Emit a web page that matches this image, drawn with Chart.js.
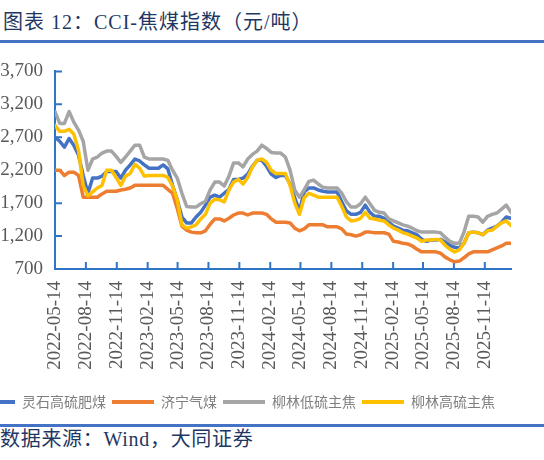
<!DOCTYPE html>
<html><head><meta charset="utf-8">
<script src="https://cdn.jsdelivr.net/npm/chart.js@4"></script>
<style>
html,body{margin:0;padding:0;width:544px;height:460px;overflow:hidden;background:#fff;position:relative;}
#title{position:absolute;left:3px;top:11px;font:20px/22px "Liberation Serif","Noto Sans CJK SC",serif;color:#1F3763;white-space:nowrap;letter-spacing:1px;}
#src{position:absolute;left:0px;top:428px;font:20px/22px "Liberation Serif","Noto Sans CJK SC",serif;color:#1F3763;white-space:nowrap;letter-spacing:0.7px;}
.rule{position:absolute;left:0;width:544px;background:#4472C4;}
#c{position:absolute;left:-70px;top:48px;}
</style></head>
<body>
<div id="title">图表 12：CCI-焦煤指数（元/吨）</div>
<div class="rule" style="top:40px;height:3px;"></div>
<canvas id="c" width="614" height="372"></canvas>
<div class="rule" style="top:424px;height:3px;"></div>
<div id="src">数据来源：Wind，大同证券</div>
<script>
// x: one observation every two weeks starting 2022-05-14
const startDate = '2022-05-14';
const stepDays = 14;
const tickLabels = ['2022-05-14','2022-08-14','2022-11-14','2023-02-14','2023-05-14','2023-08-14','2023-11-14','2024-02-14','2024-05-14','2024-08-14','2024-11-14','2025-02-14','2025-05-14','2025-08-14','2025-11-14'];
const seriesNames = ['灵石高硫肥煤','济宁气煤','柳林低硫主焦','柳林高硫主焦'];
const lingshi = [2700,2640,2550,2680,2580,2430,2120,1850,2080,2080,
 2110,2180,2180,2180,2080,2200,2280,2370,2340,2280,
 2230,2230,2230,2280,2220,1970,1750,1490,1400,1400,
 1490,1560,1670,1790,1820,1790,1850,1910,2060,2060,
 2080,2140,2260,2350,2350,2260,2140,2090,2120,2120,
 1990,1780,1580,1870,1930,1930,1900,1880,1870,1870,
 1870,1720,1580,1530,1530,1560,1670,1560,1500,1500,
 1470,1410,1350,1320,1290,1280,1250,1220,1150,1120,
 1140,1140,1150,1110,1060,1030,1020,1090,1250,1260,
 1250,1220,1290,1320,1350,1410,1490,1470];
const jining = [2200,2200,2120,2170,2170,2120,1790,1790,1790,1790,
 1840,1880,1880,1880,1900,1910,1930,1970,1970,1970,
 1970,1970,1970,1970,1910,1850,1620,1350,1290,1260,
 1250,1250,1280,1380,1460,1460,1430,1470,1520,1550,
 1550,1520,1550,1550,1550,1530,1460,1410,1410,1410,
 1400,1320,1280,1310,1370,1370,1370,1370,1340,1340,
 1340,1310,1230,1220,1200,1220,1260,1260,1250,1250,
 1250,1230,1120,1110,1090,1080,1050,1000,960,960,
 960,960,940,880,840,810,820,870,930,960,
 960,960,960,990,1020,1050,1090,1090];
const liulinLow = [3090,2910,2910,3090,2930,2810,2640,2200,2370,2400,
 2460,2490,2490,2410,2320,2400,2490,2580,2580,2400,
 2370,2370,2370,2370,2350,2200,2080,1850,1650,1640,
 1640,1690,1730,1900,2020,2020,1960,2110,2310,2310,
 2250,2370,2440,2490,2580,2530,2470,2460,2460,2400,
 2200,1900,1790,1900,2030,2050,1990,1940,1930,1930,
 1930,1850,1720,1640,1640,1690,1790,1690,1590,1560,
 1550,1460,1430,1400,1370,1350,1320,1280,1260,1260,
 1260,1260,1250,1180,1120,1090,1090,1260,1500,1500,
 1490,1410,1500,1530,1550,1610,1670,1560];
const liulinHigh = [2880,2790,2790,2820,2750,2500,1970,1810,1870,1930,
 1970,2200,2200,2090,1970,2110,2150,2290,2230,2110,
 2120,2120,2120,2120,2090,1960,1750,1370,1320,1340,
 1370,1460,1530,1700,1760,1750,1720,1900,2020,2060,
 1990,2090,2250,2350,2370,2320,2200,2150,2150,2150,
 1970,1700,1530,1780,1850,1820,1790,1790,1790,1790,
 1790,1650,1490,1430,1440,1470,1560,1470,1460,1440,
 1430,1370,1320,1290,1250,1230,1200,1170,1120,1140,
 1140,1150,1140,1060,1000,960,990,1090,1250,1260,
 1250,1220,1280,1290,1350,1400,1430,1360];
const colors = ['#4472C4','#ED7D31','#A5A5A5','#FFC000'];
const yMin = 700, yMax = 3700, yStep = 500;

const DAY = 86400000;
const toMs = s => Date.parse(s + 'T00:00:00Z');
const startMs = toMs(startDate);
const xs = lingshi.map((_, i) => startMs + i * stepDays * DAY);
const tickMs = tickLabels.map(toMs);
const AXIS = '#2E75C6';

const seriesVals = [lingshi, jining, liulinLow, liulinHigh];
const datasets = seriesVals.map((vals, k) => ({
  label: seriesNames[k],
  data: vals.map((v, i) => ({x: xs[i], y: v})),
  borderColor: colors[k],
  backgroundColor: colors[k],
  borderWidth: 3.5,
  pointRadius: 0,
  tension: 0,
  borderJoinStyle: 'round',
  borderCapStyle: 'round',
  order: 4 - k
}));

const inTicks = {
  id: 'inTicks',
  beforeDatasetsDraw(chart) {
    const {ctx, scales: {x, y}} = chart;
    ctx.save();
    ctx.strokeStyle = AXIS;
    ctx.lineWidth = 2;
    ctx.beginPath();
    y.ticks.forEach(t => { const py = y.getPixelForValue(t.value); ctx.moveTo(y.right, py); ctx.lineTo(y.right + 7, py); });
    x.ticks.forEach((t, i) => { if (i === 0) return; const px = x.getPixelForValue(t.value); ctx.moveTo(px, x.top); ctx.lineTo(px, x.top - 7); });
    ctx.stroke();
    ctx.restore();
  }
};

new Chart(document.getElementById('c'), {
  type: 'line',
  data: {datasets},
  plugins: [inTicks],
  options: {
    responsive: false,
    animation: false,
    events: [],
    layout: {padding: {left: 27, right: 33, top: 23, bottom: 1}},
    plugins: {
      tooltip: {enabled: false},
      legend: {
        position: 'bottom',
        labels: {
          boxWidth: 42, boxHeight: 4, padding: 6,
          color: '#7F7F7F',
          font: {family: '"Noto Sans CJK SC"', size: 14},
          sort: (a, b) => a.datasetIndex - b.datasetIndex,
          generateLabels(chart) {
            return Chart.defaults.plugins.legend.labels.generateLabels(chart).map(it => Object.assign(it, {lineWidth: 0}));
          }
        }
      }
    },
    scales: {
      x: {
        type: 'linear',
        min: xs[0], max: xs[xs.length - 1],
        afterBuildTicks: s => { s.ticks = tickMs.map(v => ({value: v})); },
        afterFit: s => { s.height = 120; },
        grid: {display: false, drawTicks: false, tickLength: 0},
        border: {display: true, color: AXIS, width: 2},
        ticks: {
          autoSkip: false, minRotation: 90, maxRotation: 90, padding: 12,
          color: '#595959',
          font: {family: '"Liberation Serif"', size: 19},
          callback: v => { const i = tickMs.indexOf(v); return i >= 0 ? tickLabels[i] : ''; }
        }
      },
      y: {
        min: yMin, max: yMax,
        afterFit: s => { s.width = 98; },
        grid: {display: false, drawTicks: false, tickLength: 0},
        border: {display: true, color: AXIS, width: 2},
        ticks: {
          stepSize: yStep, padding: 12,
          color: '#595959',
          font: {family: '"Liberation Serif"', size: 19},
          callback: v => v.toLocaleString('en-US')
        }
      }
    }
  }
});
</script>
</body></html>
